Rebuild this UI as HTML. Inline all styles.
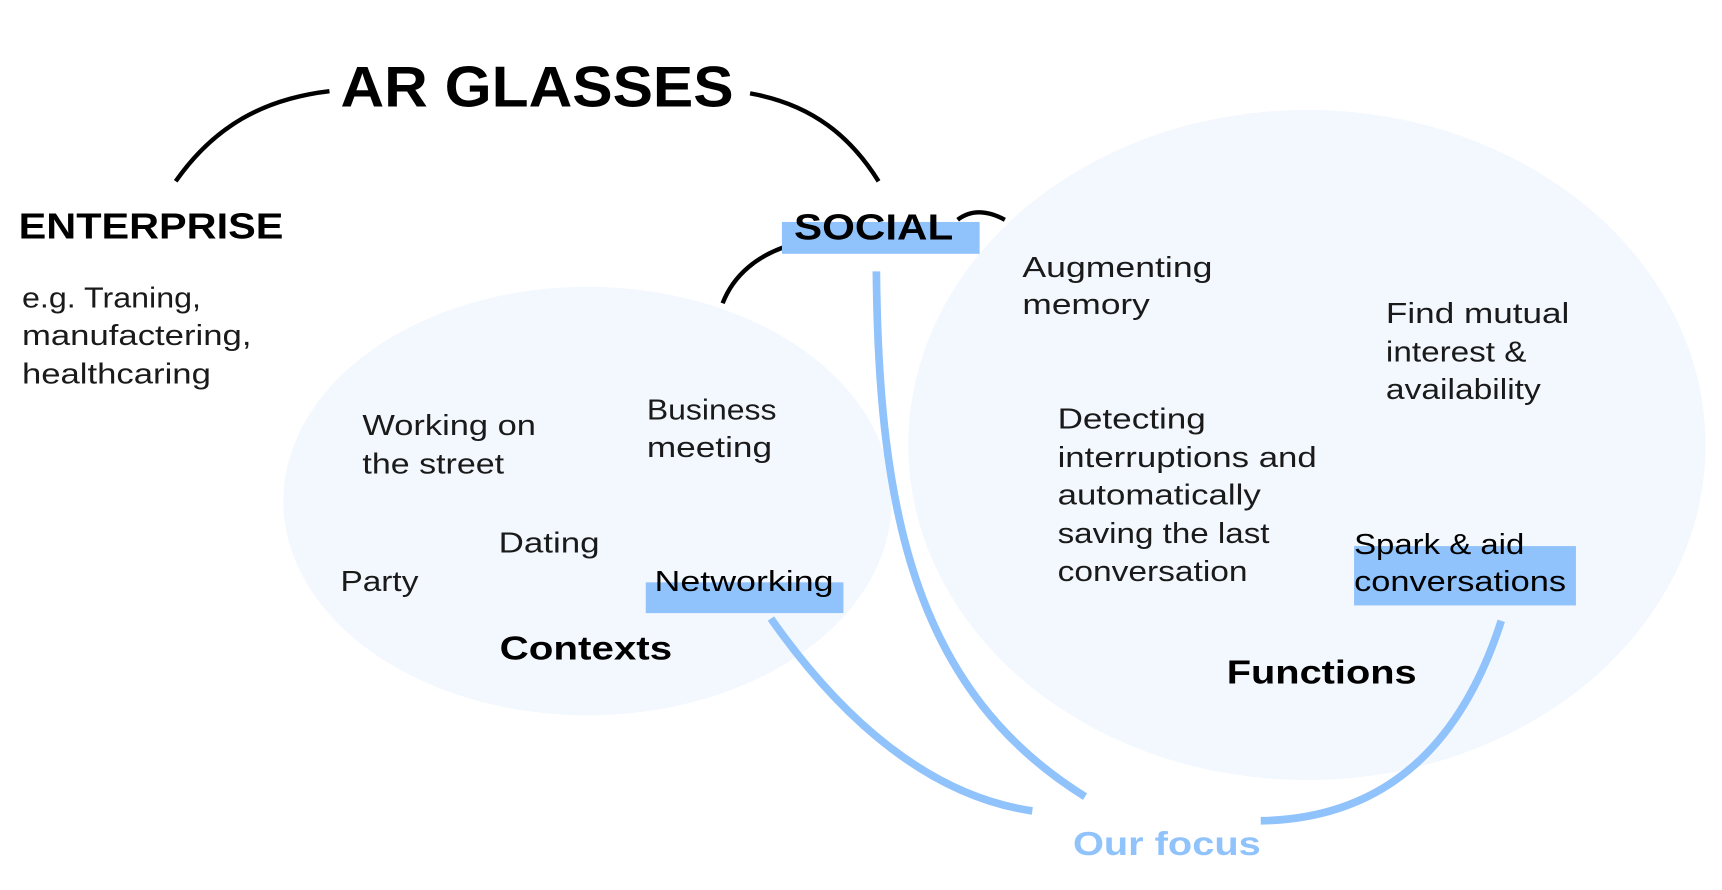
<!DOCTYPE html>
<html><head><meta charset="utf-8"><style>
html,body{margin:0;padding:0;background:#fff;width:1722px;height:890px;overflow:hidden}
svg{display:block}
text{font-family:"Liberation Sans",sans-serif}
.b{font-weight:bold;fill:#000}
.l{font-size:26px;fill:#1a1a1a}
</style></head><body>
<svg width="1722" height="890" viewBox="0 0 1568 810" preserveAspectRatio="none">
<ellipse cx="535" cy="456" rx="277" ry="195" fill="#f3f8fe"/>
<ellipse cx="1190" cy="405" rx="363" ry="305" fill="#f3f8fe"/>
<g fill="none" stroke="#000" stroke-width="4" stroke-linecap="butt">
<path d="M160,165 C195,115 240,90 300,83"/>
<path d="M683,85 C740,95 775,125 800,165"/>
<path d="M872,200 C885,190 900,192 915,200"/>
<path d="M720,223 C690,232 668,250 658,276"/>
</g>
<rect x="712" y="202" width="180" height="29" fill="#90c2fb"/>
<rect x="588" y="530" width="180" height="28" fill="#90c2fb"/>
<rect x="1233" y="497" width="202" height="54" fill="#90c2fb"/>
<g fill="none" stroke="#90c2fb" stroke-width="7">
<path d="M798,247 C800,470 835,630 988,725"/>
<path d="M702,563 C770,660 850,725 940,738"/>
<path d="M1367,565 C1330,680 1260,745 1148,747"/>
</g>
<text x="310" y="97" class="b" font-size="52" textLength="358" lengthAdjust="spacingAndGlyphs">AR GLASSES</text>
<text x="17" y="217" class="b" font-size="33" textLength="241" lengthAdjust="spacingAndGlyphs">ENTERPRISE</text>
<text x="723" y="218" class="b" font-size="33" textLength="145" lengthAdjust="spacingAndGlyphs">SOCIAL</text>
<g class="l" lengthAdjust="spacingAndGlyphs">
<text x="20" y="280" textLength="163" lengthAdjust="spacingAndGlyphs">e.g. Traning,</text>
<text x="20" y="314" textLength="209" lengthAdjust="spacingAndGlyphs">manufactering,</text>
<text x="20" y="349" textLength="172" lengthAdjust="spacingAndGlyphs">healthcaring</text>
<text x="931" y="252" textLength="173" lengthAdjust="spacingAndGlyphs">Augmenting</text>
<text x="931" y="286" textLength="116" lengthAdjust="spacingAndGlyphs">memory</text>
<text x="1262" y="294" textLength="167" lengthAdjust="spacingAndGlyphs">Find mutual</text>
<text x="1262" y="329" textLength="128" lengthAdjust="spacingAndGlyphs">interest &amp;</text>
<text x="1262" y="363" textLength="141" lengthAdjust="spacingAndGlyphs">availability</text>
<text x="330" y="396" textLength="158" lengthAdjust="spacingAndGlyphs">Working on</text>
<text x="330" y="431" textLength="129" lengthAdjust="spacingAndGlyphs">the street</text>
<text x="589" y="382" textLength="118" lengthAdjust="spacingAndGlyphs">Business</text>
<text x="589" y="416" textLength="114" lengthAdjust="spacingAndGlyphs">meeting</text>
<text x="963" y="390" textLength="135" lengthAdjust="spacingAndGlyphs">Detecting</text>
<text x="963" y="425" textLength="236" lengthAdjust="spacingAndGlyphs">interruptions and</text>
<text x="963" y="459" textLength="185" lengthAdjust="spacingAndGlyphs">automatically</text>
<text x="963" y="494" textLength="193" lengthAdjust="spacingAndGlyphs">saving the last</text>
<text x="963" y="529" textLength="173" lengthAdjust="spacingAndGlyphs">conversation</text>
<text x="454" y="503" textLength="92" lengthAdjust="spacingAndGlyphs">Dating</text>
<text x="310" y="538" textLength="71" lengthAdjust="spacingAndGlyphs">Party</text>
<text x="596" y="538" textLength="163" lengthAdjust="spacingAndGlyphs" style="fill:#000">Networking</text>
<text x="1233" y="504" textLength="155" lengthAdjust="spacingAndGlyphs" style="fill:#000">Spark &amp; aid</text>
<text x="1233" y="538" textLength="193" lengthAdjust="spacingAndGlyphs" style="fill:#000">conversations</text>
</g>
<text x="455" y="600" class="b" font-size="30" textLength="157" lengthAdjust="spacingAndGlyphs">Contexts</text>
<text x="1117" y="622" class="b" font-size="30" textLength="173" lengthAdjust="spacingAndGlyphs">Functions</text>
<text x="977" y="778" font-weight="bold" font-size="30" fill="#90c2fb" textLength="171" lengthAdjust="spacingAndGlyphs">Our focus</text>
</svg>
</body></html>
